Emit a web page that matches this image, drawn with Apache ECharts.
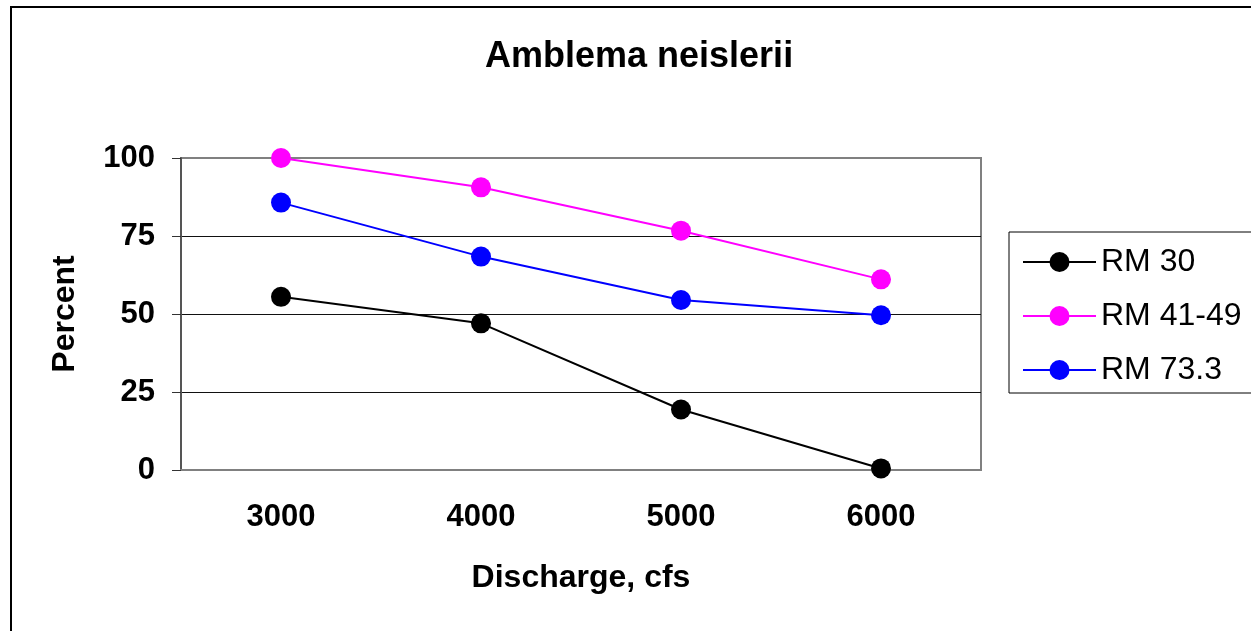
<!DOCTYPE html>
<html>
<head>
<meta charset="utf-8">
<title>Amblema neislerii</title>
<script src="https://cdn.jsdelivr.net/npm/echarts@6/dist/echarts.min.js"></script>
<style>
  html, body { margin: 0; padding: 0; background: #ffffff; }
  #chart { width: 1251px; height: 631px; }
</style>
</head>
<body>
<div id="chart"></div>
<script>
// Discharge classes (cfs) along the x axis
const discharge = ['3000', '4000', '5000', '6000'];
// Percent values per river-mile site
const rm30 = [55.5, 47, 19.4, 0.5];
const rm4149 = [100, 90.6, 76.7, 61.1];
const rm733 = [85.7, 68.4, 54.5, 49.6];
const seriesNames = ['RM 30', 'RM 41-49', 'RM 73.3'];
const seriesColors = ['#000000', '#ff00ff', '#0000ff'];
const seriesData = [rm30, rm4149, rm733];

const chart = echarts.init(document.getElementById('chart'));
const font = 'Arial, "Liberation Sans", sans-serif';

chart.setOption({
  backgroundColor: '#ffffff',
  animation: false,
  title: {
    text: 'Amblema neislerii',
    left: 480,
    top: 34,
    textStyle: { fontFamily: font, fontSize: 36, fontWeight: 'bold', color: '#000' }
  },
  graphic: [{
    type: 'rect',
    shape: { x: 11, y: 7, width: 1400, height: 800 },
    style: { fill: null, stroke: '#000', lineWidth: 2 },
    silent: true
  }],
  legend: {
    orient: 'vertical',
    left: 1009,
    top: 232,
    padding: [14, 40, 7, 13],
    itemWidth: 73,
    itemHeight: 25,
    itemGap: 22,
    borderColor: '#000',
    borderWidth: 1,
    textStyle: { fontFamily: font, fontSize: 32, color: '#000' },
    data: seriesNames
  },
  grid: {
    left: 181, top: 158, width: 800, height: 312,
    show: true, borderColor: '#808080', borderWidth: 2, backgroundColor: '#ffffff'
  },
  xAxis: {
    type: 'category',
    data: discharge,
    boundaryGap: true,
    name: 'Discharge, cfs',
    nameLocation: 'middle',
    nameGap: 92,
    nameTextStyle: { fontFamily: font, fontSize: 32, fontWeight: 'bold', color: '#000' },
    axisLine: { lineStyle: { color: '#808080', width: 2 } },
    axisTick: { length: 10, lineStyle: { color: '#333', width: 1 } },
    axisLabel: { margin: 32, fontFamily: font, fontSize: 31, fontWeight: 'bold', color: '#000' },
    splitLine: { show: false }
  },
  yAxis: {
    type: 'value',
    min: 0, max: 100, interval: 25,
    name: 'Percent',
    nameLocation: 'middle',
    nameGap: 100,
    nameTextStyle: { fontFamily: font, fontSize: 32, fontWeight: 'bold', color: '#000' },
    axisLine: { show: true, lineStyle: { color: '#555', width: 2 } },
    axisTick: { show: true, length: 9, lineStyle: { color: '#333', width: 1 } },
    axisLabel: { margin: 26, fontFamily: font, fontSize: 31, fontWeight: 'bold', color: '#000' },
    splitLine: { lineStyle: { color: ['#000', '#111', '#111', '#111', '#808080'], width: 1 } }
  },
  series: seriesNames.map((name, i) => ({
    name: name,
    type: 'line',
    data: seriesData[i],
    symbol: 'circle',
    symbolSize: 20,
    itemStyle: { color: seriesColors[i] },
    lineStyle: { color: seriesColors[i], width: 2 }
  }))
});
</script>
</body>
</html>
